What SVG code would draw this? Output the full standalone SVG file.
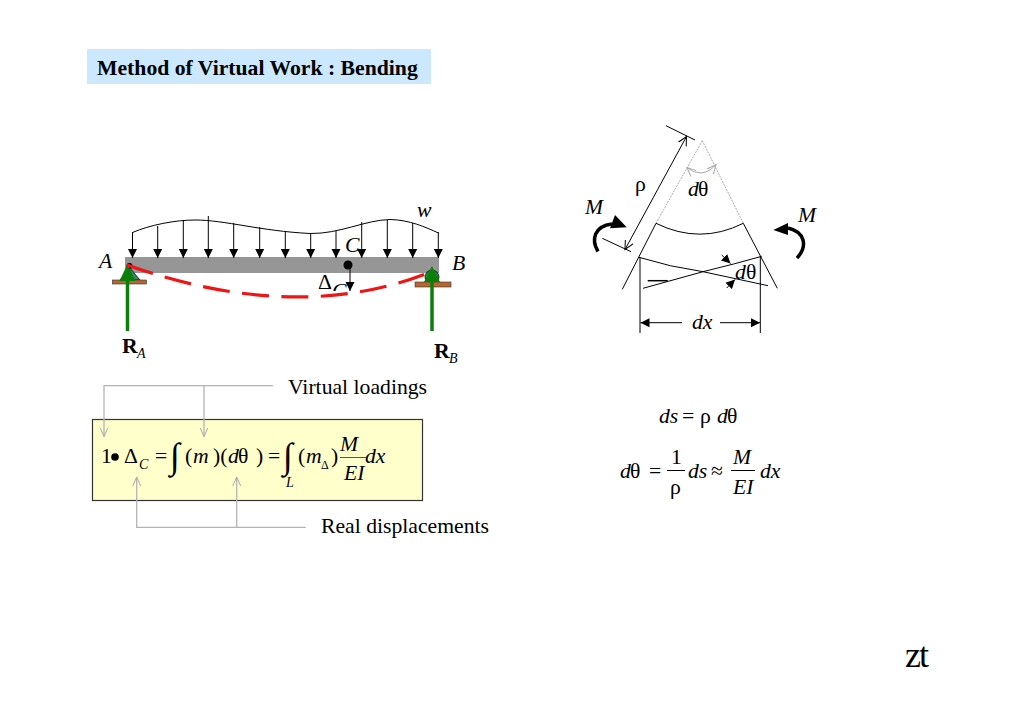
<svg xmlns="http://www.w3.org/2000/svg" width="1024" height="723" viewBox="0 0 1024 723">
<style>
text{font-family:"Liberation Serif","Times New Roman",serif;font-size:21.700px;fill:#000}
.i{font-style:italic}
.s{font-size:14px;font-style:italic}
.k{fill:none;stroke:#000;stroke-width:1}
.g{fill:none;stroke:#b4b4b4;stroke-width:1.300}
.gh{fill:none;stroke:#a8a8a8;stroke-width:1}
.int{font-size:36px}
.ar{marker-end:url(#a)}
</style>
<defs>
<marker id="a" markerUnits="userSpaceOnUse" markerWidth="10" markerHeight="10" refX="9" refY="5" orient="auto"><path d="M0 .5L9 5L0 9.500Z" fill="#000"/></marker>
<marker id="o" markerUnits="userSpaceOnUse" markerWidth="11" markerHeight="10" refX="9" refY="5" orient="auto-start-reverse"><path d="M0 .5L9 5L0 9.500" fill="none" stroke="#000"/></marker>
<marker id="gh" markerUnits="userSpaceOnUse" markerWidth="11" markerHeight="10" refX="9" refY="5" orient="auto"><path d="M0 1L9 5L0 9" fill="none" stroke="#a8a8a8"/></marker>
<clipPath id="cc"><rect x="325" y="270" width="25" height="21"/></clipPath>
</defs>
<rect width="1024" height="723" fill="#fff"/>
<g id="title"><rect x="87" y="49" width="344" height="35" fill="#cce8ff"/><text x="97" y="75" font-weight="700">Method of Virtual Work : Bending</text></g>

<g id="beam">
<rect x="125" y="257" width="314" height="16" fill="#969696"/>
<path d="M130 268L140 280H120Z" fill="#2e8b6e" stroke="#000" stroke-width=".7"/>
<circle cx="129.500" cy="266" r="3" fill="#000"/>
<rect x="112.500" y="280" width="34" height="4" fill="#b5672f" stroke="#333" stroke-width=".6"/>
<circle cx="432" cy="277" r="7" fill="#1f8a3a" stroke="#000" stroke-width=".7"/>
<rect x="415" y="282" width="36" height="5" fill="#b5672f" stroke="#333" stroke-width=".6"/>
<circle cx="348" cy="265" r="4.500" fill="#000"/>
</g>
<g id="load">
<path class="k" d="M132.500 232.500C150 225 175 220 195 220C225 220 260 231 310 233.500C340 234 365 220 390 219.500C410 220 425 227 438.500 233"/>
<path class="k ar" d="M132.500 232V258"/><path class="k ar" d="M157.700 226V258"/><path class="k ar" d="M183.300 220V258"/><path class="k ar" d="M208.300 216V258"/><path class="k ar" d="M233.700 223V258"/><path class="k ar" d="M259.700 227V258"/><path class="k ar" d="M285.300 232V258"/><path class="k ar" d="M310.700 233V258"/><path class="k ar" d="M336 231V258"/><path class="k ar" d="M361.700 222V258"/><path class="k ar" d="M387.300 220V258"/><path class="k ar" d="M412.700 223V258"/><path class="k ar" d="M438.300 232V258"/>
</g>
<g id="reactions">
<path d="M127.500 331V275" stroke="#0a800a" stroke-width="3.500"/><path d="M127.500 264L135.500 281H119.500Z" fill="#0a800a"/>
<path d="M432 331V275" stroke="#0a800a" stroke-width="3.500"/><path d="M432 266L440 282H424Z" fill="#0a800a"/>
</g>
<g id="beam-labels">
<text class="i" x="417" y="216.500">w</text>
<text class="i" x="345" y="252">C</text>
<text class="i" x="99" y="268">A</text>
<text class="i" x="452" y="270">B</text>
<text x="318" y="289">Δ</text><text class="i" x="332" y="298" clip-path="url(#cc)">C</text>
<text x="122" y="353" font-weight="700">R</text><text class="s" x="137" y="358">A</text>
<text x="434" y="358" font-weight="700">R</text><text class="s" x="449" y="363">B</text>
</g>
<g id="deflection">
<path d="M127 265Q300 326 434 270.500" fill="none" stroke="#f01414" stroke-width="3.200" stroke-dasharray="27 12.500"/>
<path class="k ar" d="M350 269V291"/>
</g>

<g id="element">
<path class="k" marker-start="url(#o)" marker-end="url(#o)" d="M625 249.500L686.500 136.500"/>
<path class="k" d="M666 125.700L695 140M602.300 238.300L631 251.700"/>
<path d="M702.300 140.700L656 223.300M702.300 140.700L743.300 223.300" fill="none" stroke="#aaa" stroke-width="1" stroke-dasharray="2 1"/>
<path class="k" d="M656 223.300Q700 245 743.300 223.300M656 223.300L622.300 289.300M743.300 223.300L777.300 288.300"/>
<path class="k" d="M639 257.300Q670 267 703 271.700L768 285.700M643 288.300L703 271.700Q735 264 761.700 256.300"/>
<path d="M647.700 280.700H667.700" stroke="#000" stroke-width="1.500"/>
<path class="k" d="M640 257V333M760.300 256V333"/>
<path class="k ar" d="M682 322.700H640.500"/><path class="k ar" d="M720 322.700H760"/>
<path class="gh" marker-end="url(#gh)" d="M701 173Q710 172 716 164.500"/>
<path class="gh" marker-end="url(#gh)" d="M701 173Q693 173 687 167.500"/>
<path class="k ar" d="M721.700 255L730.500 263.500"/><path class="k ar" d="M726.700 288L735 279.500"/>
<path d="M598 251.500C591 240 594 226 612 224" fill="none" stroke="#000" stroke-width="3.500"/>
<path d="M615 215L626.700 227.300L610 228.300Z" fill="#000"/>
<path d="M788 228C805 232 808 246 797 258" fill="none" stroke="#000" stroke-width="3.500"/>
<path d="M773.300 230L788 223V235Z" fill="#000"/>
<text x="635" y="191">ρ</text>
<text class="i" x="688" y="196">d</text><text x="698" y="196">θ</text>
<text class="i" x="585" y="214">M</text>
<text class="i" x="798" y="221.500">M</text>
<text class="i" x="735" y="279">d</text><text x="746" y="279">θ</text>
<text class="i" x="692" y="329">dx</text>
</g>

<g id="formula">
<rect x="92.500" y="419.500" width="330" height="81" fill="#ffffcc" stroke="#333" stroke-width="1.200"/>
<text x="101" y="463">1</text><circle cx="115" cy="457" r="3.800" fill="#000"/>
<text x="124" y="463">Δ</text><text class="s" x="139" y="469">C</text>
<text x="155" y="463">=</text>
<text class="int" x="170" y="468">∫</text>
<text x="185" y="463">(</text><text class="i" x="193" y="463">m</text><text x="213" y="463">)(</text><text class="i" x="228" y="463">d</text><text x="238" y="463">θ</text><text x="256" y="463">)</text><text x="268" y="463">=</text>
<text class="int" x="283" y="468">∫</text>
<text class="s" x="286" y="487">L</text>
<text x="298" y="463">(</text><text class="i" x="306" y="463">m</text><text x="321" y="469" style="font-size:12px">Δ</text><text x="331" y="463">)</text>
<text class="i" x="340" y="451">M</text><path d="M340 457.500H366" stroke="#555" stroke-width="1"/><text class="i" x="344" y="480">EI</text>
<text class="i" x="365" y="463">dx</text>
</g>
<g id="connectors">
<path class="g" marker-end="url(#gh)" d="M273 385.700H104V436.500"/>
<path class="g" marker-end="url(#gh)" d="M204 385.700V436.500"/>
<path class="g" marker-end="url(#gh)" d="M305.700 527.300H136.700V477"/>
<path class="g" marker-end="url(#gh)" d="M236.700 527.300V477"/>
</g>
<text x="288" y="394">Virtual loadings</text>
<text x="321" y="533">Real displacements</text>

<g id="equations">
<text class="i" x="659" y="423">ds</text><text x="682" y="423">=</text><text x="700" y="423">ρ</text><text class="i" x="717" y="423">d</text><text x="727" y="423">θ</text>
<text class="i" x="620" y="478">d</text><text x="630" y="478">θ</text><text x="649" y="478">=</text>
<text x="671" y="464">1</text><path d="M667 470.500H685" stroke="#000"/><text x="670" y="494">ρ</text>
<text class="i" x="688" y="478">ds</text><text x="711" y="478">≈</text>
<text class="i" x="733" y="464">M</text><path d="M731 470.500H755" stroke="#000"/><text class="i" x="733" y="494">EI</text>
<text class="i" x="760" y="478">dx</text>
</g>
<text x="905" y="667" style="font-size:36px;letter-spacing:-2px">zt</text>
</svg>
